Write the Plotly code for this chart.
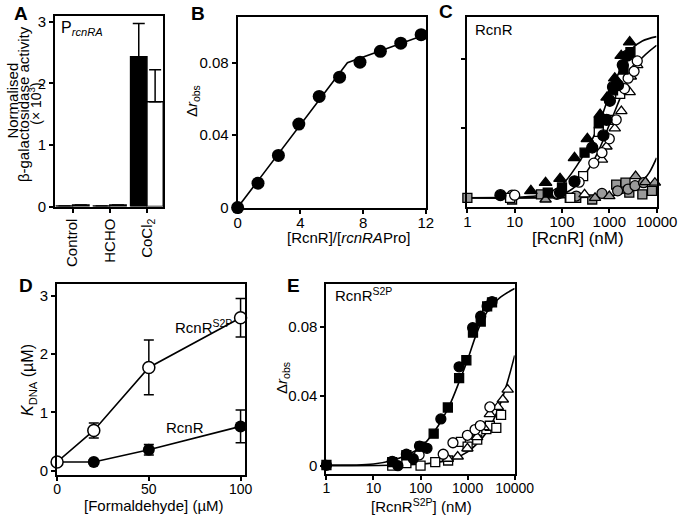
import plotly.graph_objects as go

W, H = 693, 522
FONT = "Liberation Sans, Arial, Helvetica, sans-serif"

# ---------------- Panel A data ----------------
a_categories = ["Control", "HCHO", "CoCl<sub>2</sub>"]
a_black = [0.01, 0.012, 2.43]
a_black_err = [0.0, 0.0, 0.54]
a_white = [0.025, 0.025, 1.70]
a_white_err = [0.0, 0.0, 0.52]
a_yticks = [0, 1, 2, 3]

# ---------------- Panel B data ----------------
b_ratio = [0, 1.3, 2.6, 3.9, 5.2, 6.5, 7.8, 9.1, 10.4, 11.7]
b_dr = [0, 0.0135, 0.0288, 0.0461, 0.0614, 0.0720, 0.0803, 0.0863, 0.0908, 0.0955]
b_fit_x = [0, 7.0, 12.0]
b_fit_y = [0, 0.0800, 0.0956]
b_xticks = [0, 4, 8, 12]
b_yticks = [0, 0.04, 0.08]
b_yticktext = ["0", "0.04", "0.08"]

# ---------------- Panel C data ----------------
log_ticks = [1, 10, 100, 1000, 10000]
log_ticktext = ["1", "10", "100", "1000", "10000"]

c_tri_black_x = [22, 45, 91, 184, 344, 640, 900, 1306, 1786, 2700]
c_tri_black_y = [0.004, 0.0087, 0.011, 0.023, 0.034, 0.048, 0.058, 0.069, 0.082, 0.0898]
c_circ_black_x = [5, 91, 184, 436, 750, 880, 1030, 1200, 1527, 1930, 2400]
c_circ_black_y = [0.0015, 0.003, 0.0095, 0.029, 0.036, 0.045, 0.056, 0.064, 0.065, 0.0766, 0.082]
c_sq_black_x = [50, 100, 300, 600, 1200, 2000, 2800]
c_sq_black_y = [0.003, 0.006, 0.026, 0.043, 0.062, 0.074, 0.084]
c_circ_open_x = [10, 80, 230, 470, 700, 1000, 1400, 2100, 2500, 3340, 3900]
c_circ_open_y = [0.0015, 0.0025, 0.009, 0.020, 0.026, 0.034, 0.045, 0.063, 0.069, 0.073, 0.079]
c_sq_open_x = [8, 150, 280, 600, 1000, 1700]
c_sq_open_y = [0.0, 0.0, 0.0125, 0.038, 0.045, 0.060]
c_tri_open_x = [300, 700, 870, 1306, 1800, 2700, 2850, 3900]
c_tri_open_y = [0.002, 0.022, 0.0296, 0.040, 0.050, 0.061, 0.070, 0.0766]
c_circ_gray_x = [8.8, 78, 200, 700, 1500, 2500, 3500, 5300]
c_circ_gray_y = [0.0015, 0.002, 0.001, 0.0025, 0.004, 0.005, 0.007, 0.0087]
c_sq_gray_x = [1, 8.8, 36, 146, 200, 436, 1400, 2200, 2650, 5000, 8000]
c_sq_gray_y = [0.0, -0.001, 0.002, 0.0, 0.0, -0.001, 0.0076, 0.0087, 0.003, 0.002, 0.004]
c_tri_gray_x = [45, 500, 1000, 3600, 5800, 9200]
c_tri_gray_y = [-0.001, 0.0, 0.001, 0.0125, 0.009, 0.0087]

c_fit1_x = [1, 10, 30, 50, 100, 200, 500, 1000, 2000, 3000, 5000, 10000]
c_fit1_y = [0, 0.0003, 0.0012, 0.0025, 0.0075, 0.018, 0.037, 0.059, 0.078, 0.086, 0.0905, 0.093]
c_fit2_x = [1, 30, 100, 200, 500, 1000, 2000, 4000, 10000]
c_fit2_y = [0, 0.0003, 0.002, 0.007, 0.023, 0.042, 0.062, 0.078, 0.088]
c_fit3_x = [1, 100, 1000, 2000, 3000, 5000, 7000, 10000]
c_fit3_y = [0, 0, 0.001, 0.0028, 0.0048, 0.0095, 0.0145, 0.023]
c_yticks = [0.04, 0.08]

# ---------------- Panel D data ----------------
d_formaldehyde = [0, 20, 50, 100]
d_s2p = [0.15, 0.69, 1.77, 2.62]
d_s2p_err = [0.0, 0.13, 0.47, 0.33]
d_wt = [0.15, 0.15, 0.36, 0.76]
d_wt_err = [0.03, 0.04, 0.09, 0.28]
d_xticks = [0, 50, 100]
d_yticks = [0, 1, 2, 3]

# ---------------- Panel E data ----------------
e_circ_black_x = [1, 25, 33, 50, 70, 95, 137, 270, 660, 1280, 1900, 2600, 3300]
e_circ_black_y = [0.0002, 0.0025, 0.0, 0.0066, 0.004, 0.0113, 0.010, 0.0269, 0.0569, 0.0794, 0.086, 0.0917, 0.0944]
e_sq_black_x = [1, 25, 50, 100, 190, 380, 660, 940, 1300, 1900, 2600, 3300]
e_sq_black_y = [0.0004, 0.002, 0.006, 0.011, 0.0184, 0.0335, 0.0504, 0.0607, 0.0766, 0.083, 0.0917, 0.0940]
e_circ_open_x = [93, 303, 488, 990, 1440, 1860, 2970]
e_circ_open_y = [0.0062, 0.0066, 0.0132, 0.0175, 0.0208, 0.0231, 0.0338]
e_sq_open_x = [25, 50, 100, 205, 385, 720, 1000, 1600, 2500, 2970, 4070, 5140]
e_sq_open_y = [0.0, 0.0015, 0.0, 0.002, 0.003, 0.0137, 0.011, 0.015, 0.021, 0.023, 0.0218, 0.0293]
e_tri_open_x = [380, 615, 990, 1590, 2180, 2970, 4400, 5600, 7100]
e_tri_open_y = [0.004, 0.0053, 0.010, 0.0165, 0.0222, 0.0297, 0.0338, 0.0381, 0.0438]
e_fit1_x = [1, 10, 25, 50, 100, 200, 400, 700, 1000, 1500, 2000, 3000, 5000, 10000]
e_fit1_y = [0.0003, 0.001, 0.003, 0.006, 0.0105, 0.020, 0.034, 0.050, 0.061, 0.075, 0.083, 0.091, 0.097, 0.102]
e_fit2_x = [1, 100, 300, 500, 1000, 1500, 2500, 3500, 5000, 7000, 10000]
e_fit2_y = [0, 0.0008, 0.0025, 0.004, 0.008, 0.012, 0.019, 0.026, 0.036, 0.048, 0.0635]

# ---------------- layout helpers ----------------
def fx(px):
    return px / W

def fy(py):
    return 1 - py / H

def axis(domain, tsize=15, **kw):
    d = dict(domain=domain, showline=True, linecolor="black", linewidth=2,
             mirror=True, ticks="outside", ticklen=4, tickwidth=1.5,
             tickcolor="black", showgrid=False, zeroline=False,
             tickfont=dict(family=FONT, size=tsize, color="black"))
    d.update(kw)
    return d

BLACK = "black"
GRAY = "#9a9a9a"

fig = go.Figure()

def mk(sym, fill, size=10):
    return dict(symbol=sym, color=fill, size=size, line=dict(color="black", width=1.3))

# Panel A
fig.add_trace(go.Bar(x=a_categories, y=a_black, xaxis="x", yaxis="y",
                     marker=dict(color=BLACK, line=dict(color="black", width=1.5)),
                     error_y=dict(type="data", array=a_black_err, arrayminus=[0, 0, 0],
                                  symmetric=False, color="black", thickness=1.5, width=6),
                     offsetgroup="k", showlegend=False))
fig.add_trace(go.Bar(x=a_categories, y=a_white, xaxis="x", yaxis="y",
                     marker=dict(color="white", line=dict(color="black", width=1.5)),
                     error_y=dict(type="data", array=a_white_err, arrayminus=[0, 0, 0],
                                  symmetric=False, color="black", thickness=1.5, width=6),
                     offsetgroup="w", showlegend=False))

# Panel B
fig.add_trace(go.Scatter(x=b_fit_x, y=b_fit_y, xaxis="x2", yaxis="y2", mode="lines",
                         line=dict(color="black", width=1.6), showlegend=False))
fig.add_trace(go.Scatter(x=b_ratio, y=b_dr, xaxis="x2", yaxis="y2", mode="markers",
                         marker=dict(symbol="circle", color="black", size=13),
                         cliponaxis=False, showlegend=False))

# Panel C
for fx_, fy_ in [(c_fit1_x, c_fit1_y), (c_fit2_x, c_fit2_y), (c_fit3_x, c_fit3_y)]:
    fig.add_trace(go.Scatter(x=fx_, y=fy_, xaxis="x3", yaxis="y3", mode="lines",
                             line=dict(color="black", width=1.6, shape="spline"),
                             showlegend=False))
c_sets = [
    (c_sq_gray_x, c_sq_gray_y, "square", GRAY, 9),
    (c_circ_gray_x, c_circ_gray_y, "circle", GRAY, 10),
    (c_tri_gray_x, c_tri_gray_y, "triangle-up", GRAY, 10),
    (c_sq_open_x, c_sq_open_y, "square", "white", 9),
    (c_tri_open_x, c_tri_open_y, "triangle-up", "white", 10),
    (c_circ_open_x, c_circ_open_y, "circle", "white", 10),
    (c_sq_black_x, c_sq_black_y, "square", BLACK, 9),
    (c_circ_black_x, c_circ_black_y, "circle", BLACK, 11),
    (c_tri_black_x, c_tri_black_y, "triangle-up", BLACK, 11),
]
for xs, ys, sym, col, sz in c_sets:
    fig.add_trace(go.Scatter(x=xs, y=ys, xaxis="x3", yaxis="y3", mode="markers",
                             marker=mk(sym, col, sz), cliponaxis=False, showlegend=False))

# Panel D
fig.add_trace(go.Scatter(x=d_formaldehyde, y=d_wt, xaxis="x4", yaxis="y4", mode="lines+markers",
                         line=dict(color="black", width=1.6),
                         marker=dict(symbol="circle", color="black", size=12),
                         error_y=dict(type="data", array=d_wt_err, color="black", thickness=1.5, width=5),
                         cliponaxis=False, showlegend=False))
fig.add_trace(go.Scatter(x=d_formaldehyde, y=d_s2p, xaxis="x4", yaxis="y4", mode="lines+markers",
                         line=dict(color="black", width=1.6),
                         marker=dict(symbol="circle", color="white", size=12,
                                     line=dict(color="black", width=1.5)),
                         error_y=dict(type="data", array=d_s2p_err, color="black", thickness=1.5, width=5),
                         cliponaxis=False, showlegend=False))

# Panel E
for fx_, fy_ in [(e_fit1_x, e_fit1_y), (e_fit2_x, e_fit2_y)]:
    fig.add_trace(go.Scatter(x=fx_, y=fy_, xaxis="x5", yaxis="y5", mode="lines",
                             line=dict(color="black", width=1.6, shape="spline"),
                             showlegend=False))
e_sets = [
    (e_sq_open_x, e_sq_open_y, "square", "white", 9),
    (e_tri_open_x, e_tri_open_y, "triangle-up", "white", 10),
    (e_circ_open_x, e_circ_open_y, "circle", "white", 10),
    (e_sq_black_x, e_sq_black_y, "square", BLACK, 9),
    (e_circ_black_x, e_circ_black_y, "circle", BLACK, 10),
]
for xs, ys, sym, col, sz in e_sets:
    fig.add_trace(go.Scatter(x=xs, y=ys, xaxis="x5", yaxis="y5", mode="markers",
                             marker=mk(sym, col, sz), cliponaxis=False, showlegend=False))

# axes
XSO = -4  # pull x tick labels closer to the axis line
layout = dict(
    width=W, height=H, autosize=False,
    margin=dict(l=0, r=0, t=0, b=0),
    paper_bgcolor="white", plot_bgcolor="white",
    font=dict(family=FONT, size=14, color="black"),
    barmode="group", bargap=0.12, bargroupgap=0,
    xaxis=axis([fx(53), fx(165)], anchor="y", range=[-0.47, 2.44], tickangle=-90,
               type="category"),
    yaxis=axis([fy(208), fy(13)], anchor="x", range=[0, 3.095], tickvals=a_yticks),
    xaxis2=axis([fx(242), fx(437)], anchor="y2", range=[0, 12], tickvals=b_xticks,
                ticklabelstandoff=XSO),
    yaxis2=axis([fy(209), fy(14)], anchor="x2", range=[0, 0.1054], tickvals=b_yticks,
                ticktext=b_yticktext),
    xaxis3=axis([fx(480), fx(676)], anchor="y3", type="log", range=[0, 4],
                tickvals=log_ticks, ticktext=log_ticktext, ticklabelstandoff=XSO),
    yaxis3=axis([fy(208), fy(14)], anchor="x3", range=[-0.0051, 0.1045], tickvals=c_yticks,
                showticklabels=False),
    xaxis4=axis([fx(55), fx(250)], anchor="y4", range=[0, 102.6], tickvals=d_xticks,
                ticklabelstandoff=XSO, tsize=14),
    yaxis4=axis([fy(482), fy(287)], anchor="x4", range=[-0.07, 3.2], tickvals=d_yticks),
    xaxis5=axis([fx(334), fx(529)], anchor="y5", type="log", range=[0, 4],
                tickvals=log_ticks, ticktext=log_ticktext, ticklabelstandoff=XSO, tsize=14),
    yaxis5=axis([fy(481), fy(287)], anchor="x5", range=[-0.0047, 0.1046], tickvals=b_yticks,
                ticktext=b_yticktext),
)
fig.update_layout(**layout)

def ann(text, px, py, size=14, angle=0, bold=False, xanchor="center"):
    t = f"<b>{text}</b>" if bold else text
    fig.add_annotation(text=t, x=fx(px), y=fy(py), xref="paper", yref="paper",
                       showarrow=False, textangle=angle, xanchor=xanchor, yanchor="middle",
                       font=dict(family=FONT, size=size, color="black"))

# panel letters
ann("A", 18, 11, size=19, bold=True)
ann("B", 201, 11, size=19, bold=True)
ann("C", 458, 9, size=19, bold=True)
ann("D", 23, 289, size=19, bold=True)
ann("E", 300, 289, size=19, bold=True)

# Panel A texts (three stacked title lines)
ann("Normalised", 9, 100, size=15, angle=-90)
ann("β-galactosidase activity", 21, 103, size=15, angle=-90)
ann("(× 10<sup>3</sup>)", 32, 103, size=14, angle=-90)
ann("P<sub><i>rcnRA</i></sub>", 57, 26, size=16, xanchor="left")

# Panel B texts
ann("Δ<i>r</i><sub>obs</sub>", 196, 100, size=15, angle=-90)
ann("[RcnR]/[<i>rcnRA</i>Pro]", 357, 240, size=15)

# Panel C texts
ann("RcnR", 486, 27, size=15, xanchor="left")
ann("[RcnR] (nM)", 595, 241, size=17)

# Panel D texts
ann("<i>K</i><sub>DNA</sub> (µM)", 26, 385, size=16, angle=-90)
ann("[Formaldehyde] (µM)", 155, 513, size=15)
ann("RcnR<sup>S2P</sup>", 207, 330, size=15)
ann("RcnR", 188, 434, size=15)

# Panel E texts
ann("Δ<i>r</i><sub>obs</sub>", 289, 383, size=15, angle=-90)
ann("[RcnR<sup>S2P</sup>] (nM)", 432, 513, size=15)
ann("RcnR<sup>S2P</sup>", 341, 298, size=15, xanchor="left")

fig.write_html("out.html", config={"displayModeBar": False},
               post_script="document.body.style.margin='0px';")
